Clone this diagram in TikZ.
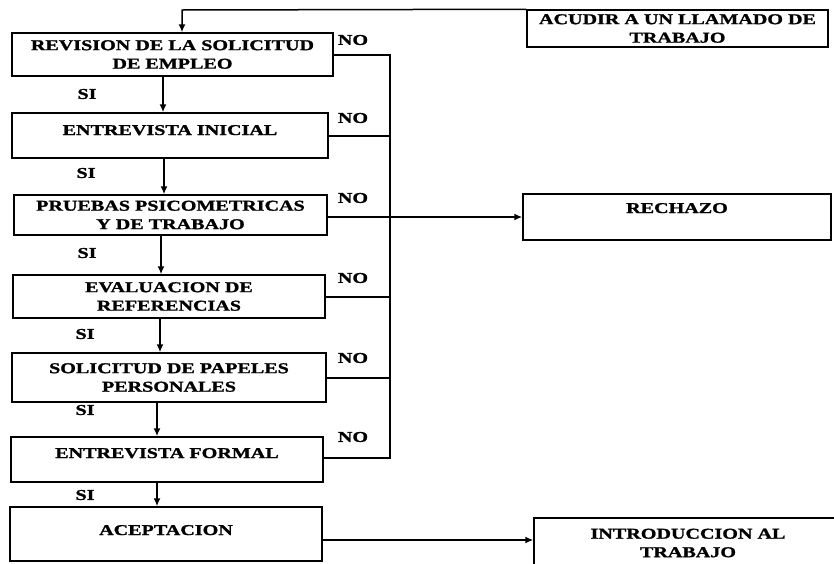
\documentclass[tikz,border=0pt]{standalone}
\usepackage{fontspec}
\setmainfont{Liberation Serif}[FakeStretch=1.34, BoldFeatures={FakeBold=1.3}]
\usetikzlibrary{arrows.meta}
\tikzset{
  lbl/.style={font=\bfseries\fontsize{15}{18.5}\selectfont, inner sep=0pt},
  box/.style={draw, line width=1.5pt, inner sep=0pt, align=center,
    font=\bfseries\fontsize{15}{18.5}\selectfont},
  oneline/.style={text height=5pt, text depth={5pt-2*(#1pt+5pt)}},
  conn/.style={line width=1.5pt},
  arr/.style={line width=1.5pt, -{Latex[length=8pt,width=7pt]}}
}
\begin{document}
\begin{tikzpicture}[x=1pt,y=-1pt]
\useasboundingbox (0,0) rectangle (834,563);
\clip (0,0) rectangle (834,563);
% boxes
\node[box, minimum width=321pt, minimum height=43pt] (b1) at (172.5,54.5) {REVISION DE LA SOLICITUD\\DE EMPLEO};
\node[box, minimum width=316pt, minimum height=45pt, oneline=-5.5] (b2) at (170,135.5) {ENTREVISTA INICIAL};
\node[box, minimum width=313pt, minimum height=40pt] (b3) at (170.5,215) {PRUEBAS PSICOMETRICAS\\Y DE TRABAJO};
\node[box, minimum width=312pt, minimum height=43pt] (b4) at (169,296.5) {EVALUACION DE\\REFERENCIAS};
\node[box, minimum width=314pt, minimum height=49pt] (b5) at (169,377.5) {SOLICITUD DE PAPELES\\PERSONALES};
\node[box, minimum width=312pt, minimum height=45pt, oneline=-6.5] (b6) at (167,459.5) {ENTREVISTA FORMAL};
\node[box, minimum width=312pt, minimum height=54pt, oneline=-4] (b7) at (166,534) {ACEPTACION};
\node[box, minimum width=308pt, minimum height=46pt, oneline=-9] (rech) at (677,217) {RECHAZO};
\node[box, minimum width=301pt, minimum height=37pt] (acud) at (677.5,28.5) {ACUDIR A UN LLAMADO DE\\TRABAJO};
\node[box, minimum width=308pt, minimum height=50pt] (intro) at (688,543) {INTRODUCCION AL\\TRABAJO};
% labels
\node[lbl] (no1) at (353,40) {NO};
\node[lbl] (no2) at (353,118) {NO};
\node[lbl] (no3) at (353,198) {NO};
\node[lbl] (no4) at (353,278) {NO};
\node[lbl] (no5) at (353,358) {NO};
\node[lbl] (no6) at (353,437) {NO};
\node[lbl] (si1) at (87,94) {SI};
\node[lbl] (si2) at (86,173) {SI};
\node[lbl] (si3) at (87,253) {SI};
\node[lbl] (si4) at (85,334) {SI};
\node[lbl] (si5) at (85,410) {SI};
\node[lbl] (si6) at (85,495) {SI};
% coordinates
\coordinate (n1) at (390,55);
\coordinate (n2) at (390,136);
\coordinate (n3) at (390,217);
\coordinate (n4) at (390,297);
\coordinate (n5) at (390,378);
\coordinate (n6) at (390,458);
\coordinate (t) at (182,10);
\coordinate (d1) at (163,0);
\coordinate (d2) at (164,0);
\coordinate (d3) at (161,0);
\coordinate (d4) at (160,0);
\coordinate (d5) at (157,0);
\coordinate (d6) at (157,0);
\coordinate (aY) at (0,540);
% NO bus
\draw[conn] (b1.east |- n1) -- (n1) -- (n6) -- (b6.east |- n6);
\draw[conn] (b2.east |- n2) -- (n2);
\draw[conn] (b3.east |- n3) -- (n3);
\draw[conn] (b4.east |- n4) -- (n4);
\draw[conn] (b5.east |- n5) -- (n5);
\draw[arr] (n3) -- (rech.west);
% SI arrows
\draw[arr] (b1.south -| d1) -- (b2.north -| d1);
\draw[arr] (b2.south -| d2) -- (b3.north -| d2);
\draw[arr] (b3.south -| d3) -- (b4.north -| d3);
\draw[arr] (b4.south -| d4) -- (b5.north -| d4);
\draw[arr] (b5.south -| d5) -- (b6.north -| d5);
\draw[arr] (b6.south -| d6) -- (b7.north -| d6);
% loop back
\draw[arr] (acud.north west) -- (t) -- (b1.north -| t);
% acceptance
\draw[arr] (b7.east |- aY) -- (intro.west |- aY);
\end{tikzpicture}
\end{document}
